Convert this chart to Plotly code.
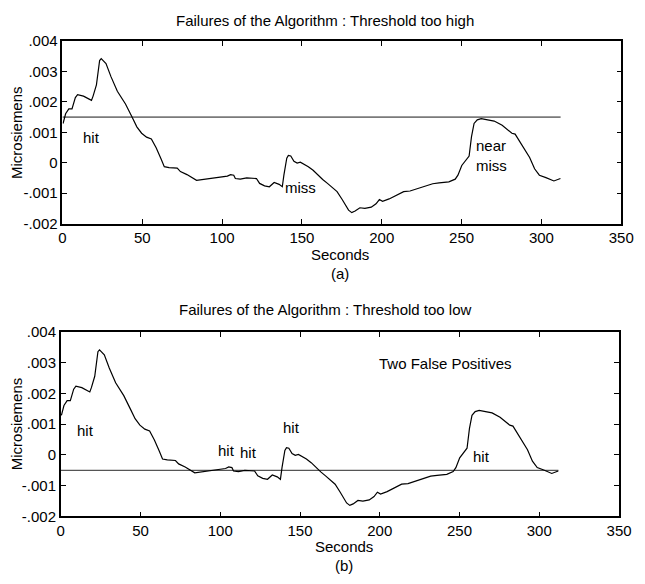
import plotly.graph_objects as go

# ---- data ----
seconds = [0.4, 2, 4, 6, 8.1, 9.5, 13.2, 18.2, 19.2, 21.3, 23.3, 24.3, 27.3, 30.4, 34.4,
           39.5, 43.6, 46.6, 49.6, 52.7, 55.7, 58.7, 61.8, 63.8, 66.8, 71.9, 73.9, 78, 84,
           88, 91.1, 97.2, 103.3, 105.3, 107.3, 108.3, 111.4, 115.4, 121.5, 123.5, 126.6,
           129.6, 132.6, 135.7, 137.7, 138.7, 140.5, 141.5, 143, 145, 147, 149, 151, 154,
           157, 160, 163, 166, 169, 172, 175.2, 177.2, 179.2, 181.2, 183.3, 186.3, 189.4,
           193.4, 196.4, 198.5, 200.5, 204.6, 207.6, 210.6, 213.7, 217.7, 221.7, 226.8,
           231.9, 235.9, 242, 246, 247.7, 250.1, 253.2, 254.7, 256.2, 257.8, 259.8, 262.3,
           266.3, 270.4, 275.4, 279.5, 281.5, 283.5, 287.6, 292.6, 295.7, 298.7, 302.8,
           307.8, 311.9]
microsiemens = [0.00129, 0.00161, 0.00177, 0.00177, 0.00214, 0.00224, 0.00219, 0.00205,
                0.00219, 0.00256, 0.00336, 0.00342, 0.00326, 0.00283, 0.00235, 0.00193,
                0.0015, 0.00118, 0.00097, 0.00084, 0.00078, 0.00049, 0.00012, -0.00013,
                -0.00016, -0.00018, -0.00029, -0.00039, -0.00058, -0.00055, -0.00054,
                -0.0005, -0.00044, -0.00039, -0.00041, -0.00052, -0.00054, -0.0005,
                -0.00052, -0.00068, -0.00076, -0.00079, -0.00065, -0.00071, -0.00079,
                -0.00041, 0.00015, 0.00024, 0.00022, 0.00005, -0.00001, 0.00002, -0.00004,
                -0.00013, -0.00025, -0.00041, -0.00055, -0.00068, -0.00082, -0.00095,
                -0.00121, -0.00137, -0.00156, -0.00164, -0.00159, -0.00148, -0.0015,
                -0.00146, -0.00135, -0.00121, -0.00127, -0.00119, -0.00111, -0.00103,
                -0.00095, -0.00093, -0.00086, -0.00077, -0.00069, -0.00066, -0.00063,
                -0.00054, -0.00041, -0.00009, 0.00012, 0.00022, 0.00086, 0.00129, 0.00141,
                0.00145, 0.00141, 0.00137, 0.00123, 0.00107, 0.00097, 0.00094, 0.0006,
                0.00017, -0.0002, -0.00041, -0.00049, -0.0006, -0.00052]

threshold_span = [0, 312]
threshold_high = 0.0015
threshold_low = -0.0005

x_ticks = [0, 50, 100, 150, 200, 250, 300, 350]
y_ticks = [-0.002, -0.001, 0, 0.001, 0.002, 0.003, 0.004]
y_tick_labels = ["-.002", "-.001", "0", ".001", ".002", ".003", ".004"]

titles = ["Failures of the Algorithm : Threshold too high",
          "Failures of the Algorithm : Threshold too low"]
panel_tags = ["(a)", "(b)"]

# annotations: (text, x, y)
notes_a = [("hit", 18.2, 0.00082), ("miss", 149.4, -0.00083), ("near<br>miss", 269, 0.00023)]
notes_b = [("hit", 15.3, 0.0008), ("hit", 103.8, 0.00014), ("hit", 118, 0.00008),
           ("hit", 144.5, 0.0009), ("Two False Positives", 241.2, 0.00298), ("hit", 263.6, -0.00004)]

W, H = 645, 584
FONT = "Liberation Sans, Arial, sans-serif"
FS = 15

fig = go.Figure()
for i, (xa, ya, thr) in enumerate([("x", "y", threshold_high), ("x2", "y2", threshold_low)]):
    fig.add_trace(go.Scatter(x=threshold_span, y=[thr, thr], mode="lines",
                             line=dict(color="#7a7a7a" if i == 0 else "#555555",
                                       width=1.6 if i == 0 else 1.1),
                             xaxis=xa, yaxis=ya, showlegend=False, hoverinfo="skip"))
    fig.add_trace(go.Scatter(x=seconds, y=microsiemens, mode="lines",
                             line=dict(color="black", width=1.2),
                             xaxis=xa, yaxis=ya, showlegend=False))

def px_x(p):
    return p / W

def px_y(p):
    return 1 - p / H

axis_common = dict(showline=True, linecolor="black", linewidth=1.5, mirror="allticks",
                   ticks="inside", ticklen=5, tickcolor="black", tickwidth=1,
                   showgrid=False, zeroline=False,
                   tickfont=dict(family=FONT, size=FS, color="black"))

fig.update_layout(
    width=W, height=H, margin=dict(l=0, r=0, t=0, b=0),
    plot_bgcolor="white", paper_bgcolor="white",
    xaxis=dict(domain=[px_x(60), px_x(634)], range=[0, 350], tickvals=x_ticks,
               anchor="y", **axis_common),
    yaxis=dict(domain=[px_y(221), px_y(33)], range=[-0.002, 0.004], tickvals=y_ticks,
               ticktext=y_tick_labels, anchor="x", **axis_common),
    xaxis2=dict(domain=[px_x(58.3), px_x(631.7)], range=[0, 350], tickvals=x_ticks,
                anchor="y2", **axis_common),
    yaxis2=dict(domain=[px_y(522.7), px_y(332.7)], range=[-0.002, 0.004], tickvals=y_ticks,
                ticktext=y_tick_labels, anchor="x2", **axis_common),
)

anns = []
txt = dict(family=FONT, size=FS, color="black")
for title, ty in zip(titles, [12, 310]):
    anns.append(dict(text=title, x=px_x(330), y=px_y(ty), xref="paper", yref="paper",
                     showarrow=False, font=txt, xanchor="center", yanchor="middle"))
for sy, tag, tgy, cx in [(253, panel_tags[0], 272, 345), (554, panel_tags[1], 573, 349)]:
    anns.append(dict(text="Seconds", x=px_x(cx), y=px_y(sy), xref="paper", yref="paper",
                     showarrow=False, font=txt, xanchor="center", yanchor="middle"))
    anns.append(dict(text=tag, x=px_x(cx), y=px_y(tgy), xref="paper", yref="paper",
                     showarrow=False, font=txt, xanchor="center", yanchor="middle"))
for cy in [127, 427]:
    anns.append(dict(text="Microsiemens", x=px_x(13), y=px_y(cy), xref="paper", yref="paper",
                     showarrow=False, font=txt, textangle=-90, xanchor="center", yanchor="middle"))
for t, x, y in notes_a:
    anns.append(dict(text=t, x=x, y=y, xref="x", yref="y", showarrow=False, font=txt,
                     align="left"))
for t, x, y in notes_b:
    anns.append(dict(text=t, x=x, y=y, xref="x2", yref="y2", showarrow=False, font=txt))
fig.update_layout(annotations=anns)

fig.write_html("out.html", config={"displayModeBar": False},
               post_script="document.body.style.margin='0';document.body.style.overflow='hidden';")
